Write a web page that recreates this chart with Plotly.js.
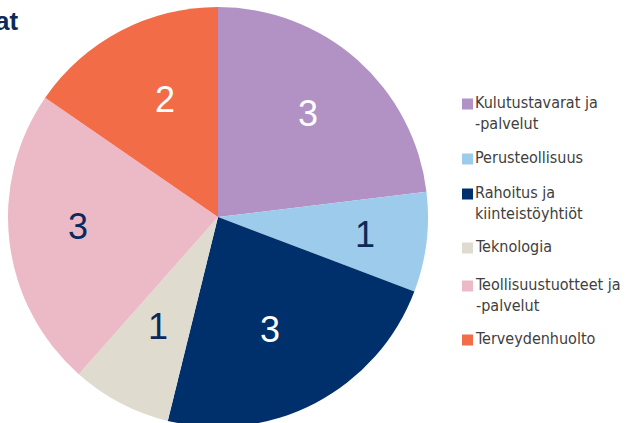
<!DOCTYPE html>
<html><head><meta charset="utf-8">
<script src="https://cdn.plot.ly/plotly-3.0.1.min.js"></script>
<style>html,body{margin:0;padding:0;overflow:hidden;background:#fff}#chart{width:629px;height:440px}</style>
</head><body><div id="chart"></div>
<script>
const categories = ["Kulutustavarat ja<br>-palvelut","Perusteollisuus","Rahoitus ja<br>kiinteistöyhtiöt","Teknologia","Teollisuustuotteet ja<br>-palvelut","Terveydenhuolto"];
const values = [3,1,3,1,3,2];
const colors = ["#b292c4","#9dcbeb","#00306b","#e0dbcf","#ebbac6","#f26c47"];
const textColors = ["#ffffff","#0b2a5b","#ffffff","#0b2a5b","#0b2a5b","#ffffff"];
const W = 629, H = 440;
// layout-only constants (label placement styling)
const cx = 218, cy = 217, R = 210;
const labelFrac = [0.655, 0.705, 0.588, 0.595, 0.667, 0.614];
const labelAngleShift = [-0.6, 0, 2.8, 0.9, 3, 3.5];
const legendX = 462, legendSq = 11, legendRowY = [104, 159, 194, 248, 286, 340];
const total = values.reduce((a,b)=>a+b,0);
let cum = 0;
const labelAnns = values.map((v,i)=>{
  const mid = (cum + v/2)/total*2*Math.PI + labelAngleShift[i]*Math.PI/180; cum += v;
  const px = cx + R*labelFrac[i]*Math.sin(mid), py = cy - R*labelFrac[i]*Math.cos(mid);
  return {text:String(v), xref:'paper', yref:'paper', x:px/W, y:1-py/H, xanchor:'center', yanchor:'middle', showarrow:false,
    font:{family:'Liberation Sans, Arial, sans-serif', size:36, color:textColors[i]}};
});
const legShapes = categories.map((c,i)=>({type:'rect', xref:'paper', yref:'paper',
  x0:legendX/W, x1:(legendX+legendSq)/W, y0:1-(legendRowY[i]-legendSq/2)/H, y1:1-(legendRowY[i]+legendSq/2)/H,
  fillcolor:colors[i], line:{width:0}}));
const legAnns = categories.map((c,i)=>({text:c, xref:'paper', yref:'paper', x:(legendX+legendSq+1)/W, xanchor:'left',
  y:1-(legendRowY[i]-12)/H, yanchor:'top', align:'left', showarrow:false, borderpad:0,
  font:{family:'DejaVu Sans Condensed, sans-serif', size:16, color:'#404040'}}));
Plotly.newPlot('chart',[{
  type:'pie', labels:categories, values:values, sort:false, direction:'clockwise', rotation:0,
  marker:{colors:colors, line:{width:0}},
  textinfo:'none', textposition:'none',
  domain:{x:[(cx-R)/W,(cx+R)/W], y:[1-(cy+R)/H,1-(cy-R)/H]},
  hoverinfo:'none', showlegend:false
}],{
  width:W, height:H, margin:{l:0,r:0,t:0,b:0}, paper_bgcolor:'#fff',
  showlegend:false, shapes:legShapes,
  annotations:[{text:'<b>Toimialat</b>', xref:'paper', yref:'paper', x:21/W, xanchor:'right', y:1-21/H, yanchor:'middle', showarrow:false, font:{family:'Liberation Sans, Arial, sans-serif', size:26, color:'#0b2a5b'}}].concat(labelAnns, legAnns)
},{displayModeBar:false, staticPlot:true});
</script></body></html>
